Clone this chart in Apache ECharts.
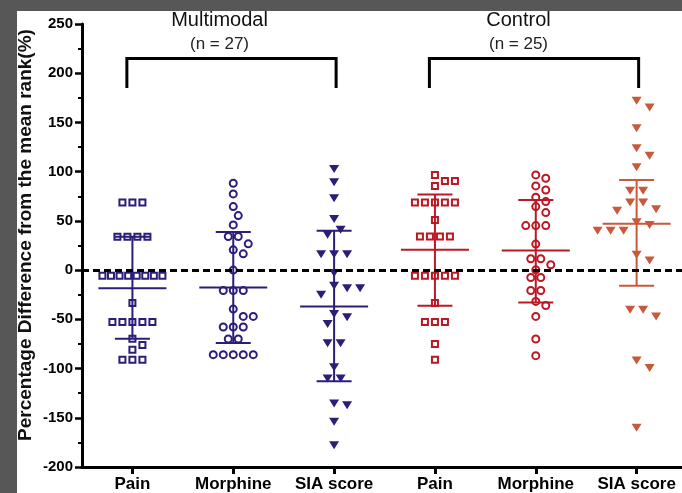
<!DOCTYPE html>
<html>
<head>
<meta charset="utf-8">
<script src="https://cdn.jsdelivr.net/npm/echarts@6/dist/echarts.min.js"></script>
<style>
  html, body { margin: 0; padding: 0; background: #575757; }
  #panel { position: absolute; left: 17px; top: 11px; right: 0; bottom: 0; background: #fff; }
  #chart { position: absolute; left: 0; top: 0; width: 682px; height: 493px; }
</style>
</head>
<body>
<div id="panel"></div>
<div id="chart"></div>
<script>
// Outcome labels along the x axis (three per group)
const categories = ['Pain', 'Morphine', 'SIA score', 'Pain', 'Morphine', 'SIA score'];
const yTicks = [-200, -150, -100, -50, 0, 50, 100, 150, 200, 250];

// Percentage difference from the mean rank, one value per patient
const multimodalPain = [68.6, 68.6, 68.6, 34, 34, 34, 34, -5.8, -5.8, -5.8, -5.8, -5.8, -5.8, -5.8, -5.8,
  -33.5, -52.7, -52.7, -52.7, -52.7, -52.7, -69.7, -76, -80.8, -91, -91, -91];
const multimodalMorphine = [88.2, 77.4, 64.5, 55.4, 45.9, 34.1, 34.1, 26.7, 20.6, 16.5, 0,
  -20.7, -20.7, -20.7, -39.6, -47, -47, -57.8, -57.8, -57.8, -70, -70, -85.9, -85.9, -85.9, -85.9, -85.9];
const multimodalSIA = [102.7, 89.2, 73, 52, 40.9, 35.8, 16, 16, 16, -3, -15.9, -18.3, -18.3, -25,
  -44.6, -48, -54.8, -74.4, -74.4, -98.8, -110, -110, -135.6, -137.3, -154, -177.9];
const controlPain = [96.7, 90.6, 90.6, 85.5, 68.6, 68.6, 68.6, 68.6, 68.6, 51, 34.1, 34.1, 34.1, 34.1,
  -5.8, -5.8, -5.8, -5.8, -5.8, -33.5, -52.7, -52.7, -52.7, -75, -91];
const controlMorphine = [96.7, 93.3, 85.5, 81.4, 74, 69.6, 64.5, 58.4, 45.2, 45.2, 45.2, 26.4, 11.5, 11.5,
  5.4, 0.3, -7.5, -7.5, -20.7, -20.7, -31.8, -35.9, -47, -70, -86.9];
const controlSIA = [172, 165.3, 144, 123.7, 116.2, 104.5, 80.7, 80.7, 68.6, 68.6, 61.9, 60.4, 48.7, 45.9,
  39.9, 39.9, 39.9, 15.5, 9.7, -40.3, -40.3, -47, -91.7, -99.4, -160.2];

// Centre line and whisker ends for each column
const centreLine = [-18.3, -17.6, -36.9, 20.6, 19.9, 47];
const whiskerHigh = [33.8, 38.8, 39.9, 76.7, 71.3, 91.6];
const whiskerLow = [-69.7, -74, -113, -36.2, -32.9, -15.9];

// Treatment groups spanning the columns
const groupNames = ['Multimodal', 'Control'];
const groupSizes = [27, 25];

const columns = [multimodalPain, multimodalMorphine, multimodalSIA, controlPain, controlMorphine, controlSIA];

// ---- styling / layout ----
const NAVY = '#2B1E78', RED = '#BC1823', ORANGE = '#C9593B';
const colColors = [NAVY, NAVY, NAVY, RED, RED, ORANGE];
const colSymbols = ['rect', 'circle', 'triangle', 'rect', 'circle', 'triangle'];
const FONT = '"Liberation Sans", Arial, sans-serif';
const W = 682, H = 493;
const grid = { left: 82, top: 24, right: 0, bottom: 25 };
const X_MIN = 0.5, X_MAX = 6.45, Y_MIN = -200, Y_MAX = 250;
const pxPerX = (W - grid.left - grid.right) / (X_MAX - X_MIN);
const pxPerY = (H - grid.top - grid.bottom) / (Y_MAX - Y_MIN);

// Beeswarm: equal values share a centred row, neighbours are nudged sideways
// in half-steps until they no longer overlap already placed markers.
function swarm(values, step, maxRow) {
  const counts = new Map();
  values.forEach(v => counts.set(v, (counts.get(v) || 0) + 1));
  const levels = [...counts.keys()].sort((a, b) => b - a);
  const placed = [];
  const out = [];
  const half = step / 2, clear = step * 0.9;
  levels.forEach(v => {
    const n = counts.get(v);
    const gap = n > 1 ? Math.min(step, maxRow / (n - 1)) : 0;
    const py = v * pxPerY;
    for (let k = 0; k < 60; k++) {
      const shift = (k % 2 ? 1 : -1) * Math.ceil(k / 2) * half;
      const xs = Array.from({ length: n }, (_, i) => shift + (i - (n - 1) / 2) * gap);
      const ok = xs.every(x => placed.every(p => Math.hypot(p.x - x, p.y - py) >= clear));
      if (ok) {
        xs.forEach(x => { placed.push({ x, y: py }); out.push([x, v]); });
        break;
      }
    }
  });
  return out;
}

const series = [];

columns.forEach((vals, i) => {
  const tri = colSymbols[i] === 'triangle';
  const step = tri ? 13 : 10;
  const pts = swarm(vals, step, 60).map(([dx, v]) => [i + 1 + dx / pxPerX, v]);
  series.push({
    type: 'scatter',
    data: pts,
    z: 2,
    silent: true,
    symbol: colSymbols[i],
    symbolRotate: tri ? 180 : 0,
    symbolSize: tri ? [10, 8] : (colSymbols[i] === 'rect' ? 6 : 7),
    itemStyle: tri
      ? { color: colColors[i], opacity: 1 }
      : { color: 'rgba(255,255,255,0)', borderColor: colColors[i], borderWidth: 2, opacity: 1 }
  });
});

// Centre line with whiskers and caps
series.push({
  type: 'custom',
  z: 3,
  silent: true,
  encode: { x: 0, y: [1, 2, 3] },
  data: categories.map((c, i) => ({
    value: [i + 1, centreLine[i], whiskerHigh[i], whiskerLow[i]],
    itemStyle: { color: colColors[i] }
  })),
  renderItem(params, api) {
    const x = api.value(0);
    const mid = api.coord([x, api.value(1)]);
    const top = api.coord([x, api.value(2)]);
    const bot = api.coord([x, api.value(3)]);
    const style = { stroke: api.visual('color'), lineWidth: 2, fill: null };
    const seg = (x1, y1, x2, y2) => ({ type: 'line', shape: { x1, y1, x2, y2 }, style });
    return {
      type: 'group',
      children: [
        seg(mid[0] - 34, mid[1], mid[0] + 34, mid[1]),
        seg(top[0], top[1], bot[0], bot[1]),
        seg(top[0] - 17.5, top[1], top[0] + 17.5, top[1]),
        seg(bot[0] - 17.5, bot[1], bot[0] + 17.5, bot[1])
      ]
    };
  }
});

// Group brackets over each set of three columns
const BRACKET_TOP = 215, BRACKET_FOOT = 185;
groupNames.forEach((g, gi) => {
  const from = gi * 3 + 1 - 0.055, to = gi * 3 + 3 + 0.02;
  series.push({
    type: 'line',
    silent: true,
    z: 4,
    symbol: 'none',
    lineStyle: { color: '#000', width: 3, join: 'miter' },
    data: [[from, BRACKET_FOOT], [from, BRACKET_TOP], [to, BRACKET_TOP], [to, BRACKET_FOOT]]
  });
});

// Dashed reference line at zero
series.push({
  type: 'scatter',
  data: [],
  z: 5,
  silent: true,
  markLine: {
    silent: true,
    symbol: 'none',
    label: { show: false },
    lineStyle: { color: '#000', width: 3, type: [7, 4] },
    data: [{ yAxis: 0 }]
  }
});

const groupCentres = [219.5, 518.5];
const graphics = [];
groupNames.forEach((g, gi) => {
  graphics.push({
    type: 'text', x: groupCentres[gi], y: 20,
    style: { text: g, align: 'center', verticalAlign: 'middle', font: '20px ' + FONT, fill: '#111' }
  });
  graphics.push({
    type: 'text', x: groupCentres[gi], y: 44,
    style: { text: '(n = ' + groupSizes[gi] + ')', align: 'center', verticalAlign: 'middle', font: '17px ' + FONT, fill: '#222' }
  });
});
graphics.push({
  type: 'text', x: 26, y: 235, rotation: Math.PI / 2,
  style: { text: 'Percentage Difference from the mean rank(%)', align: 'center', verticalAlign: 'middle',
    font: 'bold 19px ' + FONT, fill: '#111' }
});

const chart = echarts.init(document.getElementById('chart'), null, { renderer: 'canvas' });
chart.setOption({
  animation: false,
  backgroundColor: 'transparent',
  grid: grid,
  graphic: graphics,
  xAxis: {
    type: 'value',
    min: X_MIN,
    max: X_MAX,
    splitLine: { show: false },
    axisLine: { show: true, onZero: false, lineStyle: { color: '#000', width: 3 } },
    axisTick: { show: true, customValues: categories.map((c, i) => i + 1), length: 7, lineStyle: { color: '#000', width: 3 } },
    axisLabel: {
      show: true,
      customValues: categories.map((c, i) => i + 1),
      formatter: v => categories[Math.round(v) - 1],
      margin: 9,
      color: '#000',
      fontFamily: FONT,
      fontWeight: 'bold',
      fontSize: 17
    }
  },
  yAxis: {
    type: 'value',
    min: Y_MIN,
    max: Y_MAX,
    interval: 50,
    splitLine: { show: false },
    axisLine: { show: true, onZero: false, lineStyle: { color: '#000', width: 3 } },
    axisTick: { show: true, length: 7, lineStyle: { color: '#000', width: 2.5 } },
    minorTick: { show: true, splitNumber: 2, length: 4, lineStyle: { color: '#000', width: 2 } },
    minorSplitLine: { show: false },
    axisLabel: {
      margin: 9,
      color: '#000',
      fontFamily: FONT,
      fontWeight: 'bold',
      fontSize: 15,
      customValues: yTicks
    }
  },
  series: series
});
</script>
</body>
</html>
